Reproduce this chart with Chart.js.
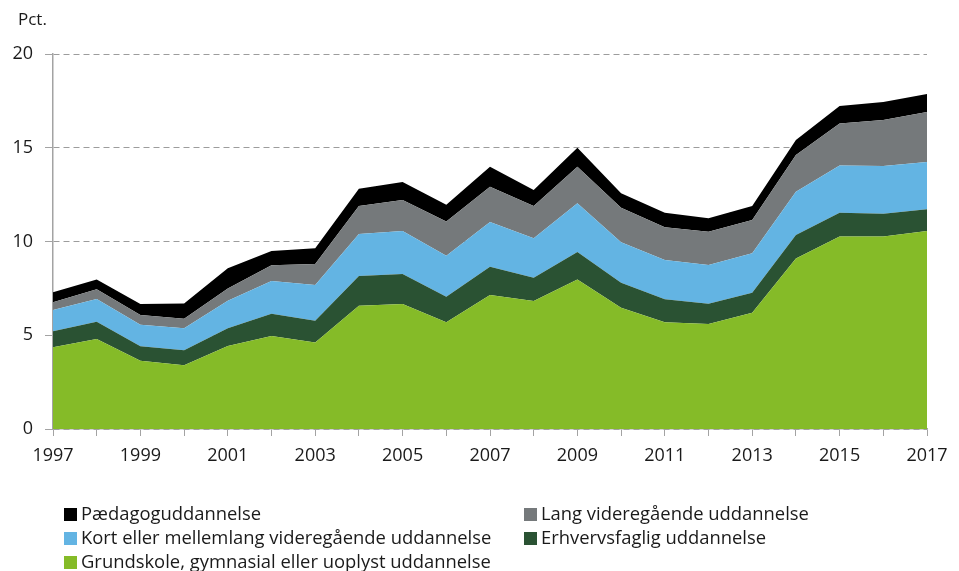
<!DOCTYPE html>
<html>
<head>
<meta charset="utf-8">
<script src="https://cdn.jsdelivr.net/npm/chart.js@4/dist/chart.umd.min.js"></script>
<style>
  html, body { margin: 0; padding: 0; background: #fff; }
  #wrap { position: relative; width: 959px; height: 571px; font-family: 'Open Sans', sans-serif; color: #1a1a1a; }
  #chart { position: absolute; left: 0; top: 0; }
  #unit { position: absolute; left: 18px; top: 7px; font-size: 17px; }
  .leg { position: absolute; font-size: 18.4px; line-height: 24px; white-space: nowrap; }
  .leg i { display: inline-block; width: 13px; height: 13px; margin-right: 4px; vertical-align: -1px; }
</style>
</head>
<body>
<div id="wrap">
  <canvas id="chart" width="959" height="571"></canvas>
  <div id="unit">Pct.</div>
</div>
<script>
// Andel i pct., 1997-2017, stablet
const years = ['1997', '1998', '1999', '2000', '2001', '2002', '2003', '2004', '2005', '2006', '2007',
  '2008', '2009', '2010', '2011', '2012', '2013', '2014', '2015', '2016', '2017']

const grundskole = [4.36, 4.80, 3.64, 3.40, 4.43, 4.96, 4.62, 6.58, 6.67, 5.69, 7.15, 6.83, 7.98, 6.47, 5.69, 5.60, 6.20, 9.10, 10.27, 10.27, 10.56]
const erhvervsfaglig = [0.85, 0.92, 0.77, 0.80, 0.94, 1.19, 1.16, 1.58, 1.60, 1.37, 1.51, 1.24, 1.46, 1.33, 1.23, 1.08, 1.07, 1.25, 1.27, 1.21, 1.16]
const kortMellemlang = [1.14, 1.21, 1.15, 1.17, 1.47, 1.74, 1.90, 2.24, 2.29, 2.18, 2.38, 2.10, 2.60, 2.16, 2.09, 2.07, 2.10, 2.31, 2.52, 2.55, 2.52]
const langVideregaaende = [0.41, 0.52, 0.52, 0.51, 0.66, 0.84, 1.12, 1.49, 1.65, 1.83, 1.88, 1.72, 1.95, 1.84, 1.75, 1.77, 1.78, 1.95, 2.24, 2.45, 2.67]
const paedagog = [0.53, 0.53, 0.59, 0.82, 1.07, 0.76, 0.84, 0.93, 0.96, 0.89, 1.07, 0.86, 1.01, 0.77, 0.78, 0.72, 0.74, 0.80, 0.93, 0.96, 0.96]

const yTicks = [0, 5, 10, 15, 20]

const COLORS = {
  green: '#85bb28',
  darkGreen: '#2a5233',
  blue: '#63b4e3',
  gray: '#75797b',
  black: '#000000',
  axis: '#a3a3a3',
  text: '#1a1a1a'
}

// bottom to top
const series = [
  { label: 'Grundskole, gymnasial eller uoplyst uddannelse', data: grundskole, color: COLORS.green },
  { label: 'Erhvervsfaglig uddannelse', data: erhvervsfaglig, color: COLORS.darkGreen },
  { label: 'Kort eller mellemlang videregående uddannelse', data: kortMellemlang, color: COLORS.blue },
  { label: 'Lang videregående uddannelse', data: langVideregaaende, color: COLORS.gray },
  { label: 'Pædagoguddannelse', data: paedagog, color: COLORS.black }
]

// legend order as in the figure (two columns)
const legendOrder = [
  { idx: 4, x: 64, y: 501 },
  { idx: 3, x: 524, y: 501 },
  { idx: 2, x: 64, y: 525 },
  { idx: 1, x: 524, y: 525 },
  { idx: 0, x: 64, y: 549 }
]

const wrap = document.getElementById('wrap')
legendOrder.forEach(item => {
  const s = series[item.idx]
  const el = document.createElement('div')
  el.className = 'leg'
  el.style.left = item.x + 'px'
  el.style.top = item.y + 'px'
  el.innerHTML = '<i style="background:' + s.color + '"></i>' + s.label
  wrap.appendChild(el)
})

const datasets = series.map((s, i) => ({
  label: s.label,
  data: s.data,
  backgroundColor: s.color,
  borderWidth: 0,
  pointRadius: 0,
  tension: 0,
  fill: i === 0 ? 'origin' : '-1'
}))

new Chart(document.getElementById('chart'), {
  type: 'line',
  data: { labels: years, datasets },
  options: {
    responsive: false,
    animation: false,
    layout: { padding: { left: 0, right: 32, top: 54, bottom: 102 } },
    plugins: { legend: { display: false }, tooltip: { enabled: false } },
    scales: {
      x: {
        offset: false,
        afterFit: (scale) => { scale.height = 40 },
        grid: { drawOnChartArea: false, drawTicks: true, tickLength: 7, color: COLORS.axis },
        border: { color: COLORS.axis, width: 1.5 },
        ticks: {
          autoSkip: false,
          maxRotation: 0,
          padding: 9,
          color: COLORS.text,
          font: { family: 'Open Sans', size: 18 },
          callback: (v, i) => (i % 2 === 0 ? years[i] : '')
        }
      },
      y: {
        stacked: true,
        min: 0,
        max: 20,
        afterFit: (scale) => { scale.width = 53 },
        afterBuildTicks: (scale) => { scale.ticks = yTicks.map(v => ({ value: v })) },
        grid: { color: '#9c9c9c', tickLength: 8, tickColor: COLORS.axis, tickBorderDash: [] },
        border: { color: COLORS.axis, width: 1.5, dash: [6, 4] },
        ticks: {
          padding: 12,
          color: COLORS.text,
          font: { family: 'Open Sans', size: 18 }
        }
      }
    }
  }
})
</script>
</body>
</html>
